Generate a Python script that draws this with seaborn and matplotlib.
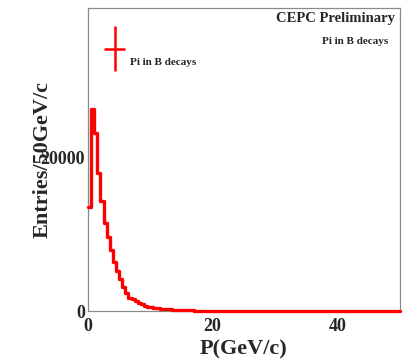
import numpy as np
import pandas as pd
import seaborn as sns
import matplotlib.pyplot as plt
from matplotlib.container import ErrorbarContainer
from matplotlib.legend_handler import HandlerErrorbar
from matplotlib.ticker import MultipleLocator

# momentum of pions from B decays, 0.5 GeV/c bins from 0 to 50
bin_width = 0.5
counts = [
    13500, 26300, 23250, 18000, 14300, 11500, 9600, 7900, 6400, 5250,
    4150, 3100, 2400, 1750, 1500, 1250, 1050, 850, 700, 580,
    500, 430, 370, 320, 275, 235, 200, 170, 145, 125,
    105, 90, 78, 66, 57, 48, 41, 35, 30, 26,
    22, 19, 16, 14, 12, 10, 9, 8, 7, 6,
    5, 4, 4, 3, 3, 3, 2, 2, 2, 2,
    1, 1, 1, 1, 1, 1, 1, 1, 0, 1,
    0, 1, 0, 0, 1, 0, 0, 0, 1, 0,
    0, 0, 0, 0, 0, 0, 0, 0, 0, 0,
    0, 0, 0, 0, 0, 0, 0, 0, 0, 0,
]
centers = np.arange(len(counts)) * bin_width + bin_width / 2
df = pd.DataFrame({"p": centers, "n": counts})

x_ticks = [0, 20, 40]
y_ticks = [0, 20000]

sns.set_style("white")
plt.rcParams['font.family'] = ['Liberation Serif', 'DejaVu Serif']
plt.rcParams['font.weight'] = 'bold'

fig = plt.figure(figsize=(4.1, 3.61), dpi=100)
ax = fig.add_axes([0.2146, 0.1385, 0.760, 0.839])

sns.histplot(data=df, x="p", weights="n", binwidth=bin_width, binrange=(0, 50),
             element="step", fill=False, color="red", linewidth=2.4, ax=ax,
             clip_on=False, zorder=3)

ax.set_xlim(0, 50)
ax.set_ylim(0, 39500)
ax.set_xticks(x_ticks)
ax.set_yticks(y_ticks)
ax.xaxis.set_minor_locator(MultipleLocator(5))
ax.yaxis.set_minor_locator(MultipleLocator(10000))
ax.tick_params(which='both', direction='in', color='#8a8a8a', width=0.9)
ax.tick_params(which='major', length=6, labelsize=13)
ax.tick_params(axis='x', which='major', pad=5)
ax.tick_params(axis='y', which='major', pad=2)
ax.tick_params(which='minor', length=2.5)
for s in ax.spines.values():
    s.set_color('#8a8a8a')
    s.set_linewidth(0.9)

ax.set_xlabel("P(GeV/c)", fontsize=16, fontweight='bold', labelpad=3)
ax.set_ylabel("Entries/50GeV/c", fontsize=16, fontweight='bold')
ax.yaxis.set_label_coords(-0.115, 0.5)

ax.text(0.984, 0.967, "CEPC Preliminary", transform=ax.transAxes, ha='right',
        va='center', fontsize=10.5, fontweight='bold')
ax.text(0.965, 0.891, "Pi in B decays", transform=ax.transAxes, ha='right',
        va='center', fontsize=8, fontweight='bold')

eb = ax.errorbar([np.nan], [np.nan], xerr=[1], yerr=[1], fmt='none', ecolor='red', elinewidth=1.8)
leg = ax.legend([eb], ["\n\nPi in B decays"], loc='center left', bbox_to_anchor=(0.02, 0.865),
                frameon=False, prop={'size': 8, 'weight': 'bold'},
                handler_map={ErrorbarContainer: HandlerErrorbar(xerr_size=0.95, yerr_size=2.0)},
                handlelength=1.9, handletextpad=0.4)
leg.get_texts()[0].set_linespacing(1.6)

fig.savefig("out.png", dpi=100)
